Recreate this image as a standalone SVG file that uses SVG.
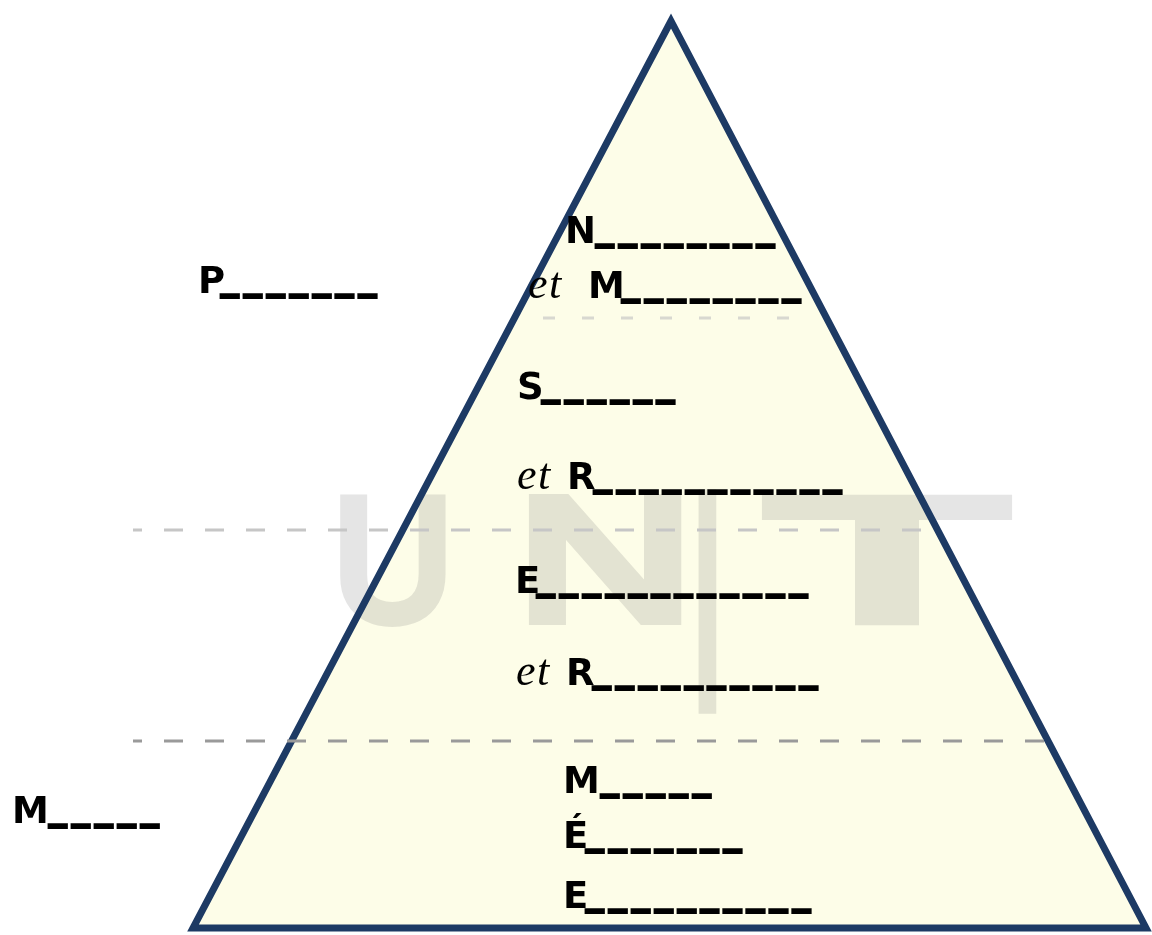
<svg xmlns="http://www.w3.org/2000/svg" width="1152" height="935" viewBox="0 0 1152 935">
  <style>
    .t { font-family: "DejaVu Sans", "Liberation Sans", Arial, sans-serif; font-weight: 700; font-size: 37px; fill: #000; }
    .u { font-family: "Liberation Sans", Arial, sans-serif; font-weight: 400; font-size: 28px; letter-spacing: 7.4px; stroke: #000; stroke-width: 4px; stroke-linejoin: miter; }
    .i { font-family: "Liberation Serif", "Times New Roman", serif; font-style: italic; font-weight: 400; font-size: 44px; letter-spacing: 1.5px; }
    .wm { font-family: "Liberation Sans", Arial, sans-serif; font-weight: 400; font-size: 172px; fill: #7f7f7f; stroke: #7f7f7f; stroke-width: 12px; stroke-linejoin: miter; }
    .dash { fill: none; stroke-width: 3; stroke-dasharray: 19 22; stroke-dashoffset: 10; }
  </style>
  <rect width="1152" height="935" fill="#ffffff"/>

  <g id="pyramid">
    <polygon points="671,21 193,928 1146,928" fill="#fdfde8"/>
  </g>

  <g id="watermark" opacity="0.2">
    <text class="wm" transform="matrix(0.96,0,0,1,333.2,619.2)">U</text>
    <text class="wm" transform="matrix(1.41,0,0,1,517.5,619.2)">N</text>
    <text class="wm" transform="matrix(0.68,0,0,1.3,692.3,658.8)">|</text>
    <text class="wm" transform="matrix(2.29,0,0,1,766.8,619.2)">T</text>
  </g>

  <g id="pyramid-outline">
    <polygon points="671,21 193,928 1146,928" fill="none" stroke="#1d3a64" stroke-width="7" stroke-linejoin="miter"/>
  </g>

  <g id="connectors">
    <line x1="543" y1="318" x2="805" y2="318" stroke="#d8d8d0" stroke-width="3" stroke-dasharray="12 27"/>
    <line class="dash" x1="133" y1="530" x2="925" y2="530" stroke="#c6c6c6"/>
    <line class="dash" x1="133" y1="741" x2="1046" y2="741" stroke="#9a9a9a"/>
  </g>

  <g id="label-p">
    <text class="t" x="198" y="293">P<tspan class="u" x="222" dy="-2">_______</tspan></text>
  </g>
  <g id="label-n">
    <text class="t" x="565" y="243">N<tspan class="u" x="597" dy="-2">________</tspan></text>
  </g>
  <g id="label-et-m">
    <text class="t" x="528" y="298"><tspan class="i">et</tspan> <tspan x="588">M</tspan><tspan class="u" x="623" dy="-2">________</tspan></text>
  </g>
  <g id="label-s">
    <text class="t" x="517" y="399">S<tspan class="u" x="543" dy="-2">______</tspan></text>
  </g>
  <g id="label-et-r1">
    <text class="t" x="517" y="489"><tspan class="i">et</tspan> <tspan x="567">R</tspan><tspan class="u" x="595" dy="-2">___________</tspan></text>
  </g>
  <g id="label-e1">
    <text class="t" x="515" y="593">E<tspan class="u" x="538" dy="-2">____________</tspan></text>
  </g>
  <g id="label-et-r2">
    <text class="t" x="516" y="685"><tspan class="i">et</tspan> <tspan x="566">R</tspan><tspan class="u" x="594" dy="-2">__________</tspan></text>
  </g>
  <g id="label-m-left">
    <text class="t" x="12" y="823">M<tspan class="u" x="50" dy="-2">_____</tspan></text>
  </g>
  <g id="label-m">
    <text class="t" x="563" y="793">M<tspan class="u" x="602" dy="-2">_____</tspan></text>
  </g>
  <g id="label-e-acute">
    <text class="t" x="563" y="848">É<tspan class="u" x="587" dy="-2">_______</tspan></text>
  </g>
  <g id="label-e2">
    <text class="t" x="563" y="908">E<tspan class="u" x="587" dy="-2">__________</tspan></text>
  </g>
</svg>
